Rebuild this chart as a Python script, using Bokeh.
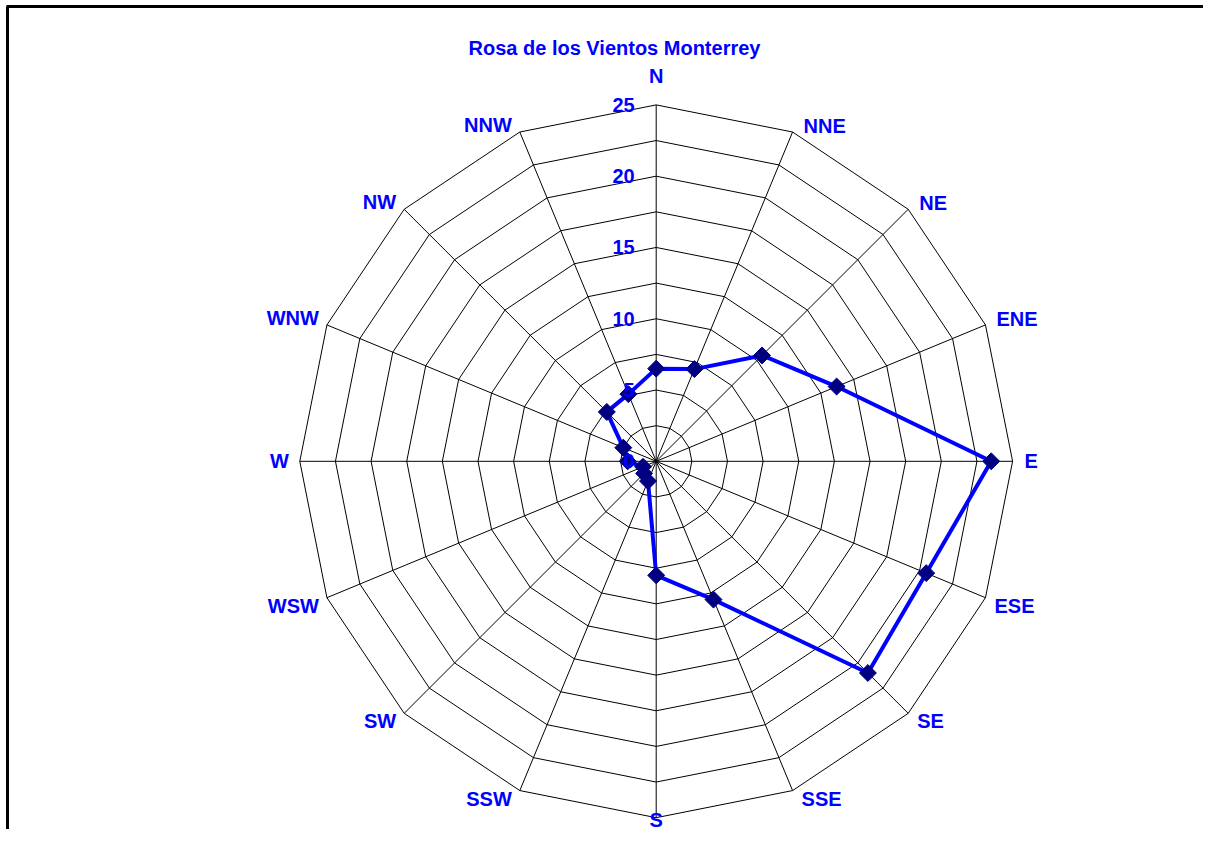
import numpy as np
from bokeh.plotting import figure
from bokeh.models import Range1d
from bokeh.embed import file_html
from bokeh.resources import INLINE
from bokeh.core.properties import value

# ---------------- data ----------------
directions = ["N", "NNE", "NE", "ENE", "E", "ESE", "SE", "SSE",
              "S", "SSW", "SW", "WSW", "W", "WNW", "NW", "NNW"]
frequency = [6.5, 7.0, 10.5, 13.7, 23.5, 20.5, 21.0, 10.5,
             8.0, 1.5, 1.2, 1.0, 2.0, 2.5, 4.9, 5.1]
ring_ticks = [0, 5, 10, 15, 20, 25]
title_text = "Rosa de los Vientos Monterrey"
r_max = 25
grid_step = 2.5

# ---------------- layout ----------------
W, H = 1203, 829
CX, CY = 655.7, 460.8
RPX = 356.4
scale = RPX / r_max
FONT = value("Liberation Sans")
BLUE = "#0000FF"
FS = "20px"

p = figure(width=W, height=H, x_range=Range1d(0, W), y_range=Range1d(H, 0),
           output_backend="svg", toolbar_location=None, min_border=0)
p.axis.visible = False
p.grid.visible = False
p.outline_line_color = None
p.background_fill_color = "white"
p.border_fill_color = "white"

n = len(directions)
ang = np.arange(n) * 2 * np.pi / n
sx = np.sin(ang)
sy = -np.cos(ang)

# frame lines (top and left)
p.segment(x0=[6, 7], y0=[6, 6], x1=[W, 7], y1=[6, H], line_color="black", line_width=3)

# rings
levels = np.arange(grid_step, r_max + 1e-9, grid_step)
xs = [list(CX + lv * scale * np.append(sx, sx[0])) for lv in levels]
ys = [list(CY + lv * scale * np.append(sy, sy[0])) for lv in levels]
p.multi_line(xs=xs, ys=ys, line_color="black", line_width=1)

# spokes
p.segment(x0=[CX] * n, y0=[CY] * n, x1=list(CX + r_max * scale * sx),
          y1=list(CY + r_max * scale * sy), line_color="black", line_width=1)

# data series
f = np.array(frequency)
dx = CX + f * scale * sx
dy = CY + f * scale * sy
p.line(x=list(np.append(dx, dx[0])), y=list(np.append(dy, dy[0])),
       line_color=BLUE, line_width=4)
p.scatter(x=list(dx), y=list(dy), marker="square", size=12, angle=45, angle_units="deg",
          fill_color="#000080", line_color="#000080")

# ring labels
p.text(x=[CX - 21.5] * len(ring_ticks), y=[CY - t * scale for t in ring_ticks],
       text=[str(t) for t in ring_ticks], text_align="right", text_baseline="middle",
       text_font=FONT, text_font_size=FS, text_font_style="bold", text_color=BLUE)

# direction labels (anchor = vertical centre of the capitals)
lx, ly, la = [], [], []
for i, d in enumerate(directions):
    vx = CX + r_max * scale * sx[i]
    vy = CY + r_max * scale * sy[i]
    a = i * 360.0 / n
    if a == 0:
        x, y, al = vx, vy - 29, "center"
    elif a == 180:
        x, y, al = vx, vy + 2, "center"
    elif a == 90:
        x, y, al = vx + 12, vy, "left"
    elif a == 270:
        x, y, al = vx - 11, vy, "right"
    elif a < 90:
        x, y, al = vx + 11, vy - 6, "left"
    elif a < 180:
        x, y, al = vx + 9, vy + 8, "left"
    elif a < 270:
        x, y, al = vx - 8, vy + 8, "right"
    else:
        x, y, al = vx - 8, vy - 7, "right"
    lx.append(x); ly.append(y); la.append(al)
for al in ["left", "right", "center"]:
    idx = [k for k in range(n) if la[k] == al]
    p.text(x=[lx[k] for k in idx], y=[ly[k] for k in idx], text=[directions[k] for k in idx],
           text_align=al, text_baseline="middle", text_font=FONT, text_font_size=FS,
           text_font_style="bold", text_color=BLUE)

# title
p.text(x=[614], y=[47], text=[title_text], text_align="center", text_baseline="middle",
       text_font=FONT, text_font_size=FS, text_font_style="bold", text_color=BLUE)

open("out.html", "w").write(file_html(p, INLINE))
